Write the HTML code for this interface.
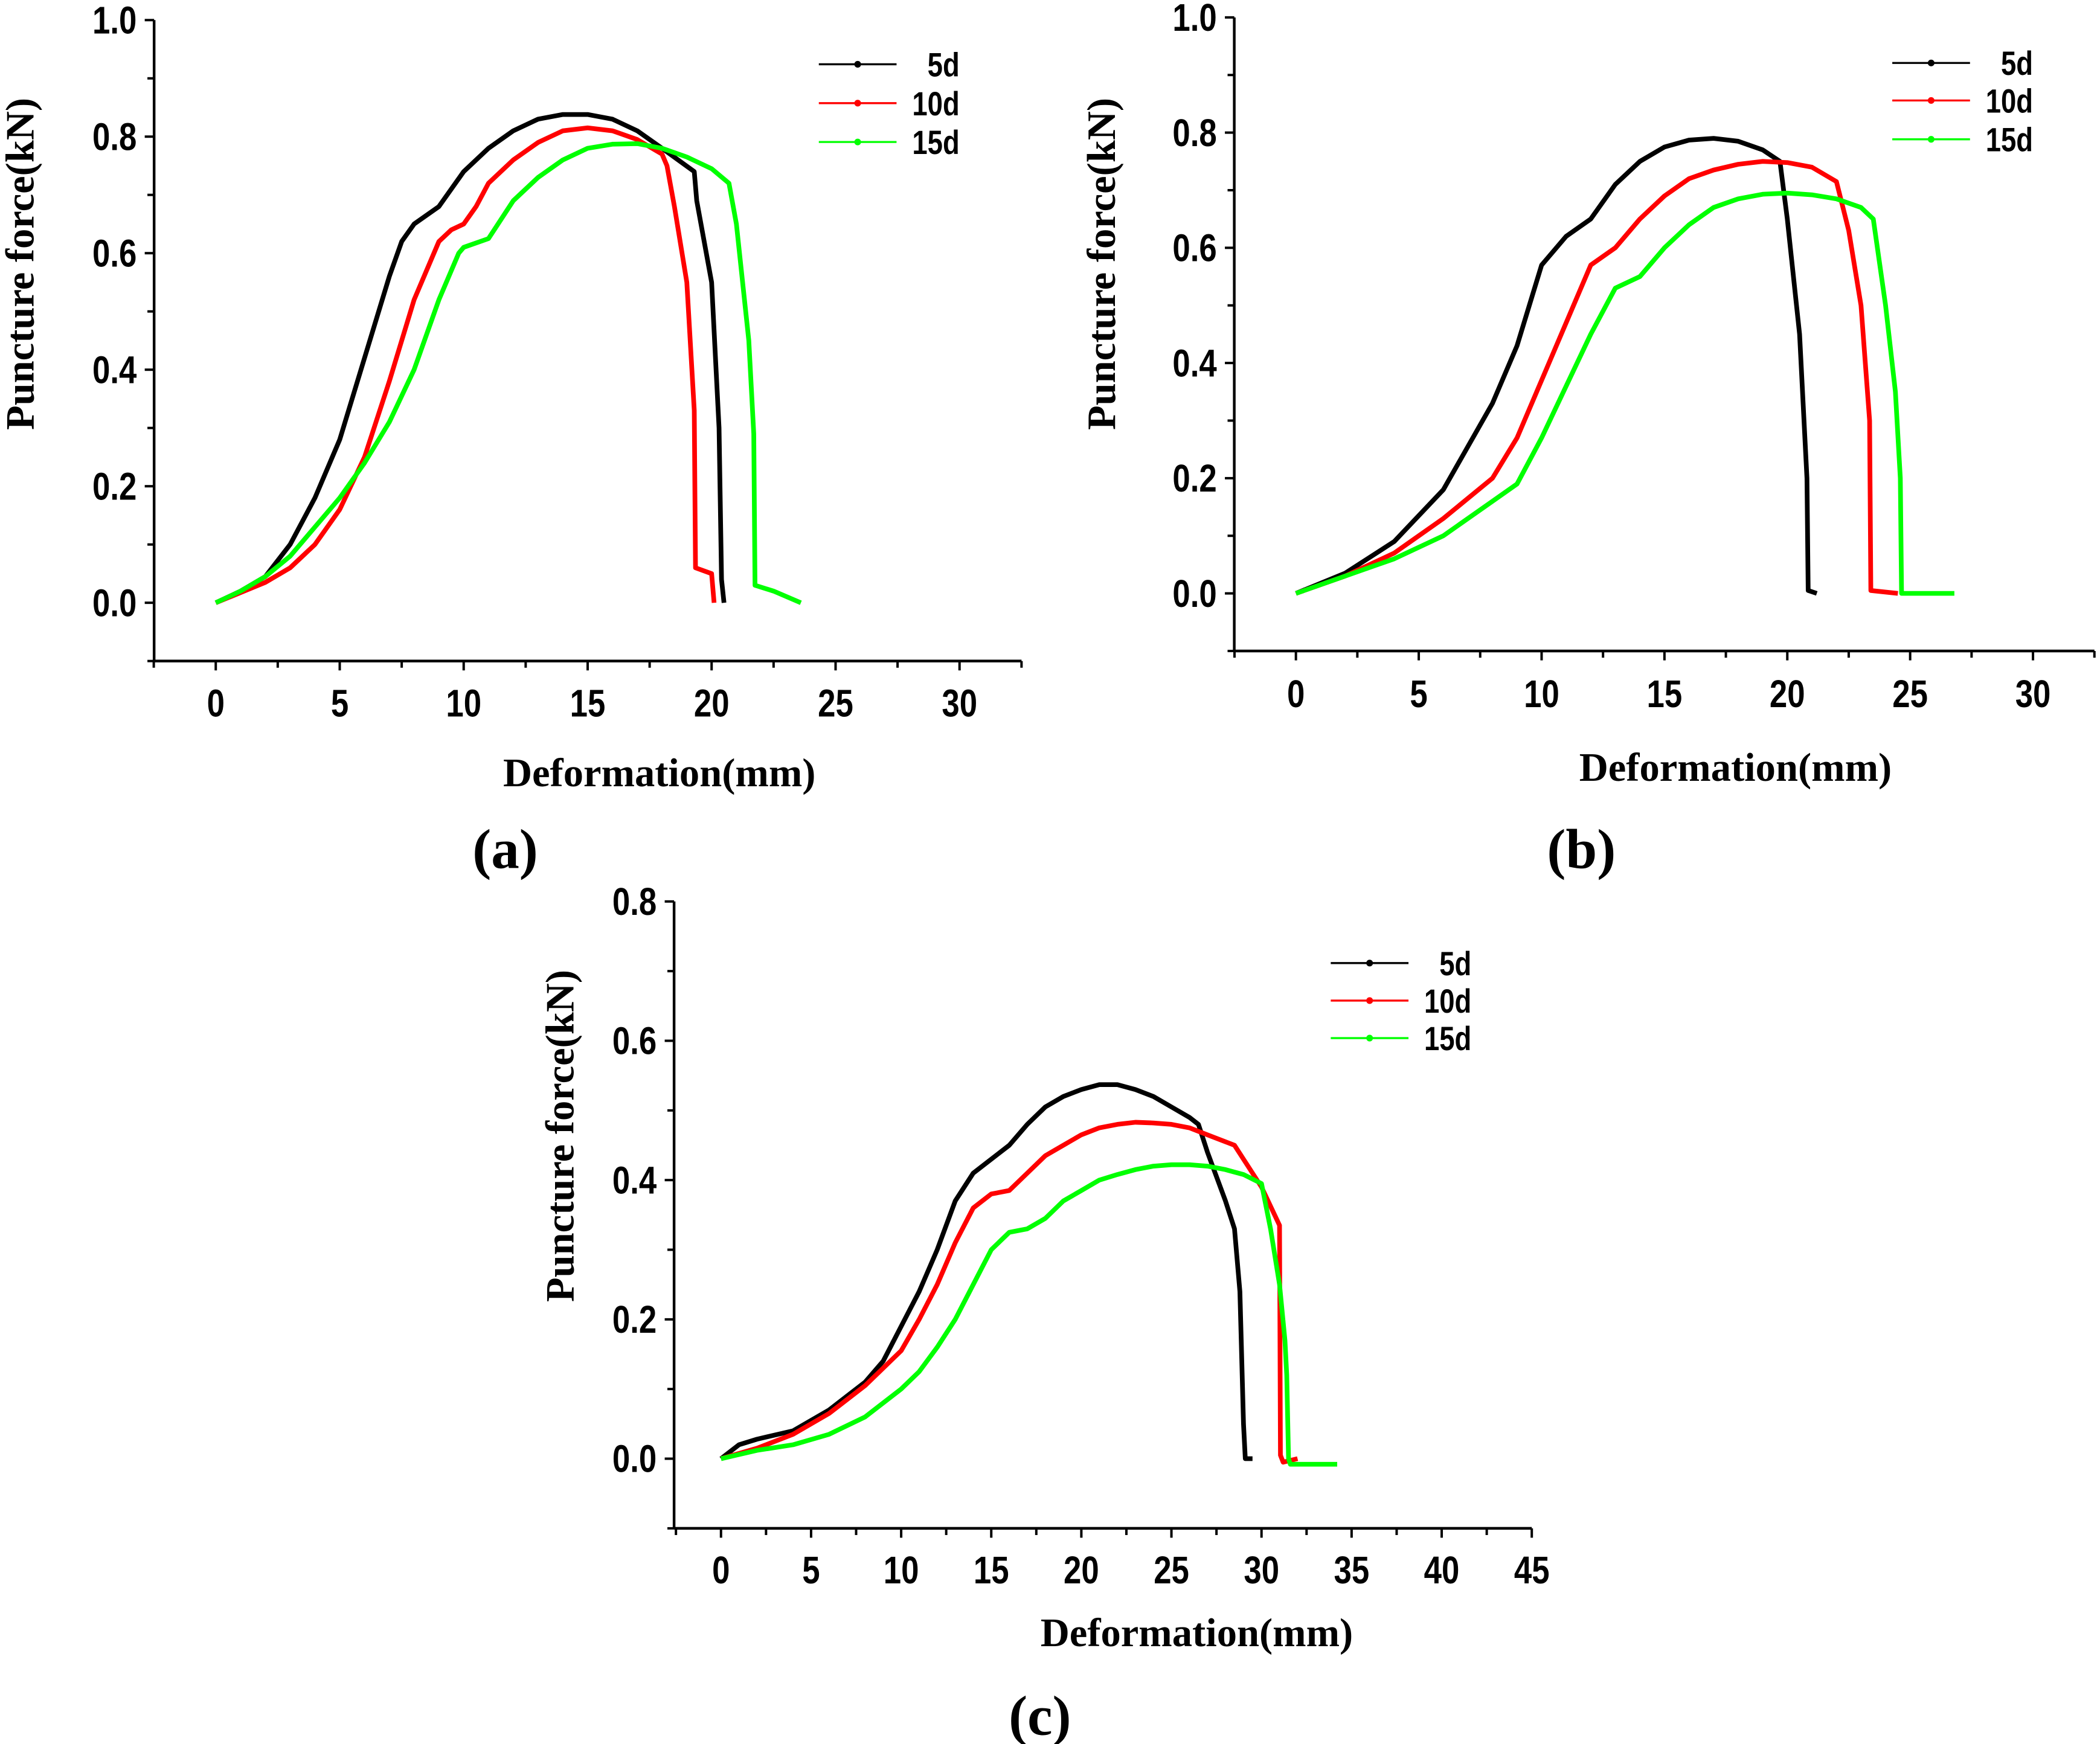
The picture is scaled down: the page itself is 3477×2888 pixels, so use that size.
<!DOCTYPE html>
<html><head><meta charset="utf-8"><style>html,body{margin:0;padding:0;background:#fff}svg{display:block}</style></head>
<body>
<svg id="fig" width="3477" height="2888" viewBox="0 0 1567 1302" preserveAspectRatio="none" xmlns="http://www.w3.org/2000/svg"></svg>
<script>
const seriesNames = ["5d","10d","15d"];
const seriesColors = ["#000000","#ff0000","#00ff00"];
const xTicksAB = [0,5,10,15,20,25,30];
const xTicksC = [0,5,10,15,20,25,30,35,40,45];
const yTicksAB = [0.0,0.2,0.4,0.6,0.8,1.0];
const yTicksC = [0.0,0.2,0.4,0.6,0.8];

const a5x=[0,1,2,3,4,5,6,7,7.5,8,9,10,11,12,13,14,15,16,17,18,19.3,19.4,20,20.3,20.4,20.5];
const a5y=[0,0.02,0.045,0.1,0.18,0.28,0.42,0.56,0.62,0.65,0.68,0.74,0.78,0.81,0.83,0.838,0.838,0.83,0.81,0.78,0.74,0.69,0.55,0.3,0.04,0];
const a10x=[0,2,3,4,5,6,7,8,9,9.5,10,10.5,11,12,13,14,15,16,17,18,18.2,18.5,19,19.3,19.35,20,20.1];
const a10y=[0,0.035,0.06,0.1,0.16,0.25,0.38,0.52,0.62,0.64,0.65,0.68,0.72,0.76,0.79,0.81,0.815,0.81,0.795,0.77,0.75,0.68,0.55,0.33,0.06,0.05,0];
const a15x=[0,1,2,3,4,5,6,7,8,9,9.8,10,11,12,13,14,15,16,17,18,19,20,20.7,21,21.5,21.7,21.75,22.5,23.6];
const a15y=[0,0.02,0.045,0.08,0.13,0.18,0.24,0.31,0.4,0.52,0.6,0.61,0.625,0.69,0.73,0.76,0.78,0.787,0.788,0.78,0.765,0.745,0.72,0.65,0.45,0.29,0.03,0.02,0];

const b5x=[0,2,4,6,8,9,10,11,12,13,14,15,16,17,18,19,19.7,20,20.5,20.8,20.85,21.2];
const b5y=[0,0.035,0.09,0.18,0.33,0.43,0.57,0.62,0.65,0.71,0.75,0.775,0.787,0.79,0.785,0.77,0.75,0.65,0.45,0.2,0.005,0];
const b10x=[0,2,4,6,8,9,10,11,12,13,14,15,16,17,18,19,20,21,22,22.5,23,23.35,23.4,24.5];
const b10y=[0,0.03,0.07,0.13,0.2,0.27,0.37,0.47,0.57,0.6,0.65,0.69,0.72,0.735,0.745,0.75,0.748,0.74,0.715,0.63,0.5,0.3,0.005,0];
const b15x=[0,2,4,6,8,9,10,11,12,13,14,15,16,17,18,19,20,21,22,23,23.5,24,24.4,24.6,24.65,26.8];
const b15y=[0,0.03,0.06,0.1,0.16,0.19,0.27,0.36,0.45,0.53,0.55,0.6,0.64,0.67,0.685,0.693,0.695,0.692,0.685,0.67,0.65,0.5,0.35,0.2,0,0];

const c5x=[0,1,2,4,6,8,9,10,11,12,13,14,15,16,17,18,19,20,21,22,23,24,25,26,26.5,27,28,28.5,28.8,29,29.1,29.5];
const c5y=[0,0.02,0.028,0.04,0.07,0.11,0.14,0.19,0.24,0.3,0.37,0.41,0.43,0.45,0.48,0.505,0.52,0.53,0.537,0.537,0.53,0.52,0.505,0.49,0.48,0.44,0.37,0.33,0.24,0.05,0,0];
const c10x=[0,2,4,6,8,10,11,12,13,14,15,16,17,18,19,20,21,22,23,24,25,26,27,28,28.5,29,30,31,31.05,31.2,32];
const c10y=[0,0.015,0.035,0.065,0.105,0.155,0.2,0.25,0.31,0.36,0.38,0.385,0.41,0.435,0.45,0.465,0.475,0.48,0.483,0.482,0.48,0.475,0.465,0.455,0.45,0.43,0.39,0.335,0.005,-0.005,0];
const c15x=[0,2,4,6,8,10,11,12,13,14,15,16,17,18,19,20,21,22,23,24,25,26,27,28,29,30,30.5,31,31.3,31.4,31.5,31.6,34.2];
const c15y=[0,0.012,0.02,0.035,0.06,0.1,0.125,0.16,0.2,0.25,0.3,0.325,0.33,0.345,0.37,0.385,0.4,0.408,0.415,0.42,0.422,0.422,0.42,0.415,0.408,0.395,0.33,0.25,0.17,0.12,0,-0.008,-0.008];

const NS="http://www.w3.org/2000/svg";
const svg=document.getElementById('fig');
function mk(tag,attrs,parent){const e=document.createElementNS(NS,tag);for(const k in attrs)e.setAttribute(k,attrs[k]);(parent||svg).appendChild(e);return e;}
function ctext(parent,x,y,anchor,size,str){
  const t=mk('text',{x:0,y:0,'text-anchor':anchor,'font-family':'Liberation Sans, sans-serif','font-weight':'bold','font-size':size,transform:`translate(${x} ${y}) scale(0.82 1)`},parent);
  t.textContent=str;return t;
}

const panels=[
 {id:'a',ax:115,x0:161,x1:716,xv1:30,xmin:-2.5,xmax:32.5,yTop:15,y0:450,yv1:1.0,ymin:-0.1,ymax:1.0,xt:xTicksAB,yt:yTicksAB,
  data:[[a5x,a5y],[a10x,a10y],[a15x,a15y]],legX:611,legY:[48,77,106],xlab:[492,578],tag:[377,636],ylab:[15,197],tickY:535},
 {id:'b',ax:921,x0:967,x1:1517,xv1:30,xmin:-2.5,xmax:32.5,yTop:13,y0:443,yv1:1.0,ymin:-0.1,ymax:1.0,xt:xTicksAB,yt:yTicksAB,
  data:[[b5x,b5y],[b10x,b10y],[b15x,b15y]],legX:1412,legY:[47,75,104],xlab:[1295,574],tag:[1180,636],ylab:[822,197],tickY:528},
 {id:'c',ax:503,x0:538,x1:1143,xv1:45,xmin:-2.5,xmax:45,yTop:673,y0:1089,yv1:0.8,ymin:-0.1,ymax:0.8,xt:xTicksC,yt:yTicksC,
  data:[[c5x,c5y],[c10x,c10y],[c15x,c15y]],legX:993,legY:[719,747,775],xlab:[893,1220],tag:[776,1283],ylab:[418,848],tickY:1182}
];

panels.forEach(p=>{
  const g=mk('g',{});
  
  
  const sx=v=>p.x0+(v)*(p.x1-p.x0)/p.xv1;
  const sy=v=>p.y0-(v)*(p.y0-p.yTop)/p.yv1;
  const yb=sy(p.ymin), xr=sx(p.xmax);
  const yax=mk('line',{x1:p.ax,y1:sy(p.ymax),x2:p.ax,y2:yb,stroke:'#000','stroke-width':2},g);
  
  
  const xax=mk('line',{x1:p.ax,y1:yb,x2:xr,y2:yb,stroke:'#000','stroke-width':2},g);
  
  
  for(let v=p.xmin; v<=p.xmax+1e-6; v+=2.5){
    const major=Math.abs(v/5-Math.round(v/5))<1e-6;
    mk('line',{x1:sx(v),y1:yb,x2:sx(v),y2:yb+(major?7:5),stroke:'#000','stroke-width':1.8},g);
  }
  p.xt.forEach(v=>{const t=ctext(g,sx(v),p.tickY,'middle',29,String(v));
    
    });
  for(let v=p.ymin; v<=p.ymax+1e-6; v+=0.1){
    const major=Math.abs(v/0.2-Math.round(v/0.2))<1e-6;
    mk('line',{x1:p.ax,y1:sy(v),x2:p.ax-(major?7:5),y2:sy(v),stroke:'#000','stroke-width':1.8},g);
  }
  p.yt.forEach(v=>{const t=ctext(g,p.ax-13,sy(v)+10,'end',29,v.toFixed(1));
    
    });
  const xt=mk('text',{x:p.xlab[0],y:p.xlab[1]+9,'text-anchor':'middle','font-family':'Liberation Serif, serif','font-weight':'bold','font-size':30},g);
  xt.textContent='Deformation(mm)';
  
  
  const yt=mk('text',{x:p.ylab[0]+10,y:p.ylab[1],'text-anchor':'middle','font-family':'Liberation Serif, serif','font-weight':'bold','font-size':30,transform:`rotate(-90 ${p.ylab[0]+10} ${p.ylab[1]})`},g);
  yt.textContent='Puncture force(kN)';
  
  
  const tg=mk('text',{x:p.tag[0],y:p.tag[1]+12,'text-anchor':'middle','font-family':'Liberation Serif, serif','font-weight':'bold','font-size':42},g);
  tg.textContent='('+p.id+')';
  
  
  p.data.forEach((d,i)=>{
    const pts=d[0].map((x,k)=>sx(x).toFixed(2)+','+sy(d[1][k]).toFixed(2)).join(' ');
    const pl=mk('polyline',{points:pts,fill:'none',stroke:seriesColors[i],'stroke-width':3.5,'stroke-linejoin':'round'},g);
    
    
    const lg=mk('g',{},g);
    
    
    const ly=p.legY[i];
    mk('line',{x1:p.legX,y1:ly,x2:p.legX+58,y2:ly,stroke:seriesColors[i],'stroke-width':1.5},lg);
    mk('circle',{cx:p.legX+29,cy:ly,r:2.5,fill:seriesColors[i]},lg);
    ctext(lg,p.legX+105,ly+9,'end',25,seriesNames[i]);
  });
});
</script>
</body></html>
